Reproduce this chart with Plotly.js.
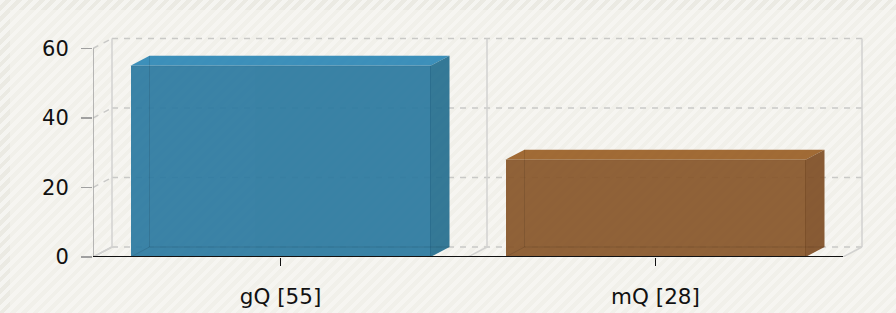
<!DOCTYPE html>
<html>
<head>
<meta charset="utf-8">
<script src="https://cdn.plot.ly/plotly-3.0.1.min.js"></script>
<style>
  html, body { margin:0; padding:0; }
  body {
    width:896px; height:313px; overflow:hidden; position:relative;
    background-color:#ebeae3;
    background-image: repeating-linear-gradient(135deg, rgba(255,255,255,0.5) 0px, rgba(255,255,255,0.5) 4px, rgba(0,0,0,0) 4px, rgba(0,0,0,0) 8px);
  }
  #inner { position:absolute; left:10px; top:10px; right:0; bottom:0; background:rgba(247,246,242,0.5); }
  #chart { position:absolute; left:0; top:0; width:896px; height:313px; }
</style>
</head>
<body>
<div id="inner"></div>
<div id="chart"></div>
<script>
// ---- data ----
var categories = ["gQ", "mQ"];
var values = [55, 28];
var yTicks = [0, 20, 40, 60];
var frontColors = ["#2c7aa0", "#88562a"];
var topColors = ["#2e88b6", "#9a6027"];
var sideColors = ["#266f8f", "#7f4f26"];

// ---- layout geometry ----
var W = 896, Hh = 313;
var mL = 93, mR = 30, mT = 37, mB = 56;
var plotW = W - mL - mR, plotH = Hh - mT - mB;
var xMin = -0.5, xFront = categories.length - 0.5;
var pxPerX = 375;                    // px per category unit on the front plane
var xMax = xMin + plotW / pxPerX;
var yMax = 63.3;
var pxPerY = plotH / yMax;
var depthPx = 19, depthPy = 10;
var dX = depthPx / pxPerX, dY = depthPy / pxPerY;
var barW = 0.8;

var tickText = categories.map(function (c, i) { return c + " [" + values[i] + "]"; });
var xs = categories.map(function (c, i) { return i; });

var traces = [];
// front faces
traces.push({
  type: "bar", x: xs, y: values, width: barW,
  marker: { color: frontColors, line: { width: 0 } },
  opacity: 0.93, hoverinfo: "none", showlegend: false
});
// top & side faces
values.forEach(function (v, i) {
  var x0 = i - barW / 2, x1 = i + barW / 2;
  traces.push({
    type: "scatter", mode: "lines", fill: "toself",
    x: [x0, x0 + dX, x1 + dX, x1, x0],
    y: [v, v + dY, v + dY, v, v],
    fillcolor: topColors[i], line: { width: 0 }, opacity: 0.93,
    hoverinfo: "none", showlegend: false
  });
  traces.push({
    type: "scatter", mode: "lines", fill: "toself",
    x: [x1, x1 + dX, x1 + dX, x1, x1],
    y: [0, dY, v + dY, v, 0],
    fillcolor: sideColors[i], line: { width: 0 }, opacity: 0.93,
    hoverinfo: "none", showlegend: false
  });
  // inner (hidden) back edges seen through the box
  traces.push({
    type: "scatter", mode: "lines",
    x: [x0, x0 + dX, x0 + dX, null, x0 + dX, x1 + dX],
    y: [0, dY, v + dY, null, dY, dY],
    line: { color: "rgba(0,0,0,0.10)", width: 1 },
    hoverinfo: "none", showlegend: false
  });
  // edge between front and top/side
  traces.push({
    type: "scatter", mode: "lines",
    x: [x0, x1, x1],
    y: [v, v, 0],
    line: { color: "rgba(0,0,0,0.08)", width: 1 },
    hoverinfo: "none", showlegend: false
  });
});

var grid = "#c9c9c7";
var shapes = [];
yTicks.forEach(function (t) {
  shapes.push({ type: "line", xref: "x", yref: "y", layer: "below",
    x0: xMin + dX, x1: xFront + dX, y0: t + dY, y1: t + dY,
    line: { color: grid, width: 1.5, dash: "6px,6px" } });
  shapes.push({ type: "line", xref: "x", yref: "y", layer: "below",
    x0: xMin, x1: xMin + dX, y0: t, y1: t + dY,
    line: { color: grid, width: 1.5, dash: t === 0 ? "solid" : "6px,6px" } });
});
// back vertical lines and floor diagonals
for (var k = 0; k <= categories.length; k++) {
  var xb = xMin + k;
  shapes.push({ type: "line", xref: "x", yref: "y", layer: "below",
    x0: xb + dX, x1: xb + dX, y0: dY, y1: yTicks[yTicks.length - 1] + dY,
    line: { color: "#d2d2d0", width: 1.5 } });
  shapes.push({ type: "line", xref: "x", yref: "y", layer: "below",
    x0: xb, x1: xb + dX, y0: 0, y1: dY,
    line: { color: "#d2d2d0", width: 1.5 } });
}
// front y axis line
shapes.push({ type: "line", xref: "x", yref: "y", layer: "above",
  x0: xMin, x1: xMin, y0: 0, y1: yTicks[yTicks.length - 1],
  line: { color: "#a0a0a0", width: 1.5 } });
// front x baseline
shapes.push({ type: "line", xref: "x", yref: "y", layer: "above",
  x0: xMin, x1: xFront, y0: 0, y1: 0,
  line: { color: "#111111", width: 2 } });

var layout = {
  width: W, height: Hh,
  margin: { l: mL, r: mR, t: mT, b: mB, pad: 0 },
  paper_bgcolor: "rgba(0,0,0,0)", plot_bgcolor: "rgba(0,0,0,0)",
  font: { family: "DejaVu Sans", size: 21, color: "#111111" },
  showlegend: false,
  xaxis: {
    type: "linear", range: [xMin, xMax], fixedrange: true,
    tickvals: xs, ticktext: tickText,
    showgrid: false, zeroline: false, showline: false,
    ticks: "outside", ticklen: 8, tickwidth: 1.5, tickcolor: "#111111",
    ticklabelstandoff: 12,
    tickfont: { family: "DejaVu Sans", size: 21.5, color: "#111111" }
  },
  yaxis: {
    range: [0, yMax], fixedrange: true,
    tickvals: yTicks, ticktext: yTicks.map(String),
    showgrid: false, zeroline: false, showline: false,
    ticks: "outside", ticklen: 11, tickwidth: 1.5, tickcolor: "#a0a0a0",
    ticklabelstandoff: 8,
    tickfont: { family: "DejaVu Sans", size: 21, color: "#111111" }
  },
  shapes: shapes,
  bargap: 0
};

Plotly.newPlot("chart", traces, layout, { staticPlot: true, displayModeBar: false });
</script>
</body>
</html>
